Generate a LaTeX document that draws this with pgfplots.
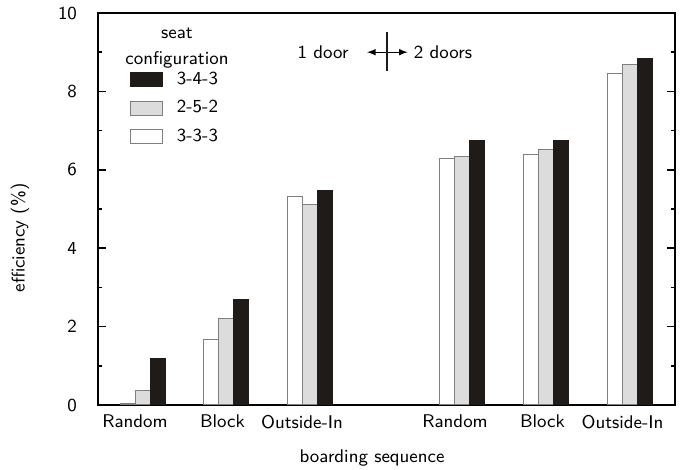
\documentclass[border=0pt]{standalone}
\usepackage{pgfplots}
\pgfplotsset{compat=1.18}
\definecolor{barblack}{HTML}{1F1B18}
\definecolor{bargrey}{HTML}{DCDCDC}
\definecolor{edgegrey}{HTML}{7F7F7F}
\begin{document}
\begin{tikzpicture}[font=\sffamily\fontsize{9.2}{11}\selectfont]
\begin{axis}[
  scale only axis, width=288.5pt, height=196pt,
  xmin=-0.533, xmax=6.377, ymin=0, ymax=10,
  ybar, bar width=7.5pt,
  tick align=inside,
  /pgf/number format/assume math mode=true,
  xtick={-0.09,0.958,1.910,3.743,4.790,5.749},
  xticklabels={Random,Block,Outside-In,Random,Block,Outside-In},
  major x tick style={draw=none},
  ytick={0,2,4,6,8,10},
  minor y tick num=1,
  major tick length=4pt, minor tick length=2pt,
  every tick/.style={black, line width=0.8pt},
  axis line style={line width=0.9pt},
  yticklabel style={xshift=-7pt},
  xticklabel style={yshift=-1.5pt},
  reverse legend,
  legend style={draw=none, fill=none, inner sep=0pt, outer sep=0pt,
    at={(axis cs:-0.15,8.60)}, anchor=north west,
    row sep=2.6pt, column sep=5pt},
  legend cell align=left,
  clip=false,
]
\addplot[bar shift=-7.5pt, fill=white, draw=edgegrey, line width=0.5pt,
  legend image code/.code={\draw[fill=white, draw=edgegrey, line width=0.5pt] (0pt,-3.5pt) rectangle (16pt,3.5pt);}]
  coordinates {(0,0.03) (1,1.66) (2,5.32) (3.83,6.28) (4.83,6.40) (5.84,8.46)};
\addplot[bar shift=0pt, fill=bargrey, draw=edgegrey, line width=0.5pt,
  legend image code/.code={\draw[fill=bargrey, draw=edgegrey, line width=0.5pt] (0pt,-3.5pt) rectangle (16pt,3.5pt);}]
  coordinates {(0,0.36) (1,2.21) (2,5.12) (3.83,6.33) (4.83,6.53) (5.84,8.69)};
\addplot[bar shift=7.5pt, fill=barblack, draw=barblack, line width=0.5pt,
  legend image code/.code={\draw[fill=barblack, draw=barblack, line width=0.5pt] (0pt,-3.5pt) rectangle (16pt,3.5pt);}]
  coordinates {(0,1.19) (1,2.68) (2,5.46) (3.83,6.76) (4.83,6.76) (5.84,8.83)};
\legend{3-3-3,2-5-2,3-4-3}
\node at (axis cs:0.413,9.49) {seat};
\node at (axis cs:0.413,8.80) {configuration};
\node at (axis cs:2.162,9.0) {1 door};
\node at (axis cs:3.599,9.0) {2 doors};
\draw[-latex, line width=0.5pt] (axis cs:2.924,9.0) -- (axis cs:3.176,9.0);
\draw[-latex, line width=0.5pt] (axis cs:2.924,9.0) -- (axis cs:2.689,9.0);
\draw[line width=1.1pt, barblack] (axis cs:2.924,9.51) -- (axis cs:2.924,8.52);
\node[rotate=90, anchor=center] at (rel axis cs:-0.1352,0.426) {efficiency (\%)};
\node[anchor=center] at (rel axis cs:0.475,-0.1352) {boarding sequence};
\coordinate (ll) at (rel axis cs:0,0);
\coordinate (ur) at (rel axis cs:1,1);
\end{axis}
\pgfresetboundingbox
\path ([xshift=-49pt,yshift=-32.5pt]ll) rectangle ([xshift=8.5pt,yshift=6.5pt]ur);
\end{tikzpicture}
\end{document}
